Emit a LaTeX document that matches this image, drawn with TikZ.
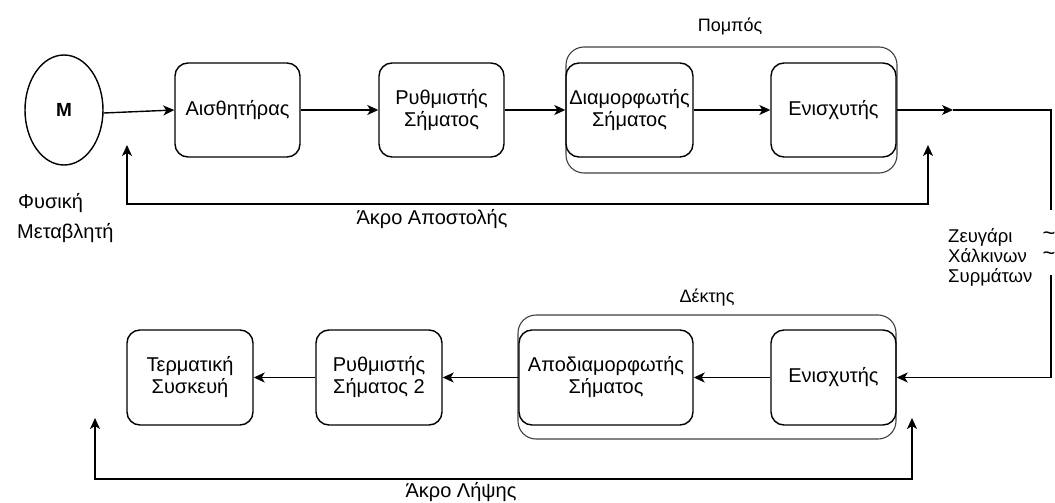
\documentclass[tikz,border=0pt]{standalone}
\usepackage{fontspec}
\setmainfont{Liberation Sans}
\usetikzlibrary{arrows.meta,shapes.geometric}

\begin{document}
\begin{tikzpicture}[x=1pt,y=-1pt,
  >={Stealth[length=11pt,width=10pt,inset=3pt]},
  every node/.style={font=\fontsize{20}{22}\selectfont, inner sep=0pt},
  block/.style={draw, line width=1.4pt, rounded corners=13pt, align=center,
                minimum width=125pt, minimum height=94pt},
  group/.style={draw, black!75, line width=1.1pt, rounded corners=18pt},
  wire/.style={line width=1.4pt},
  arr/.style={wire, ->},
  dblarr/.style={wire, <->},
  title/.style={font=\fontsize{18}{21}\selectfont},
  caption/.style={font=\fontsize{20}{22}\selectfont}
]
\useasboundingbox (0,0) rectangle (1055,503);

% --- transmitting end -------------------------------------------------
\node[group, minimum width=331pt, minimum height=126pt] (pompos) at (731.5,110) {};
\node[title] (pomposlbl) at (730,26) {Πομπός};

\node[draw, ellipse, line width=1.4pt, minimum width=78pt, minimum height=110pt]
  (M) at (64,110) {\fontsize{19}{20}\selectfont\bfseries M};
\node[block] (ais) at (237.5,110) {Αισθητήρας};
\node[block] (ryth) at (441.5,110) {Ρυθμιστής\\Σήματος};
\node[block, minimum width=127pt] (diam) at (629.5,110) {Διαμορφωτής\\Σήματος};
\node[block] (enisT) at (833.5,110) {Ενισχυτής};

\draw[arr] ([yshift=-3pt]M.east) -- (ais.west);
\draw[arr] (ais.east) -- (ryth.west);
\draw[arr] (ryth.east) -- (diam.west);
\draw[arr] (diam.east) -- (enisT.west);

\node[anchor=west] (fys) at (18,203) {Φυσική};
\node[anchor=west] (metav) at (17,233) {Μεταβλητή};

% feedback of the transmitting end
\coordinate (fbA) at (127,145);
\coordinate (fbB) at (127,204);
\coordinate (fbC) at (928,204);
\coordinate (fbD) at (928,145);
\draw[dblarr] (fbA) -- (fbB) -- (fbC) -- (fbD);
\node[caption] (sendlbl) at (432,219) {Άκρο Αποστολής};

% --- copper pair line ----------------------------------------------------
\coordinate (wmid) at (953,110);
\coordinate (wtr) at (1051,110);
\coordinate (wbrk1) at (1051,210);
\coordinate (wbrk2) at (1051,275);
\draw[arr] (enisT.east) -- (wmid);
\draw[wire] (wmid) -- (wtr) -- (wbrk1);
\node[font=\fontsize{22}{22}\selectfont] (tildeA) at (1049,236) {\textasciitilde};
\node[font=\fontsize{22}{22}\selectfont] (tildeB) at (1049,256) {\textasciitilde};
\node[anchor=west, align=left, font=\fontsize{18.5}{20}\selectfont] (pair) at (948,257)
  {Ζευγάρι\\Χάλκινων\\Συρμάτων};

% --- receiving end ---------------------------------------------------
\node[group, minimum width=378pt, minimum height=124pt] (dektis) at (707,377) {};
\node[title] (dektislbl) at (707,298) {Δέκτης};

\node[block, minimum width=126pt, minimum height=95pt] (term) at (190,377.5) {Τερματική\\Συσκευή};
\node[block, minimum width=126pt, minimum height=95pt] (ryth2) at (379,377.5) {Ρυθμιστής\\Σήματος 2};
\node[block, minimum width=174pt, minimum height=95pt] (apod) at (606,377.5) {Αποδιαμορφωτής\\Σήματος};
\node[block, minimum height=95pt] (enisR) at (833.5,377.5) {Ενισχυτής};

\draw[arr] (wbrk2) |- (enisR.east);
\draw[arr] (enisR.west) -- (apod.east);
\draw[arr] (apod.west) -- (ryth2.east);
\draw[arr] (ryth2.west) -- (term.east);

% feedback of the receiving end
\coordinate (rbA) at (95,418);
\coordinate (rbB) at (95,479);
\coordinate (rbC) at (912,479);
\coordinate (rbD) at (912,418);
\draw[dblarr] (rbA) -- (rbB) -- (rbC) -- (rbD);
\node[caption] (recvlbl) at (461,492) {Άκρο Λήψης};
\end{tikzpicture}
\end{document}
